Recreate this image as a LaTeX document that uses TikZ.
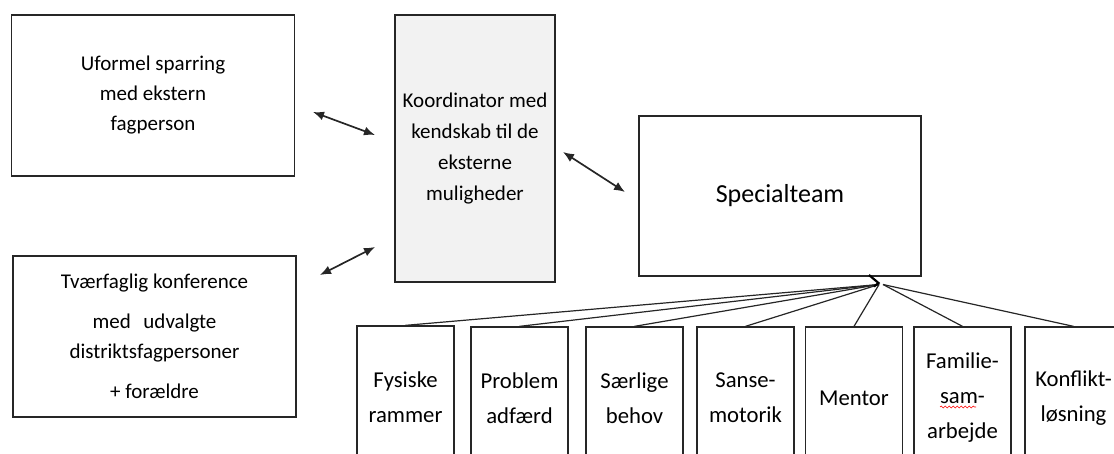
\documentclass[tikz,border=0pt]{standalone}
\usepackage{fontspec}
\setmainfont{Carlito}
\usetikzlibrary{arrows.meta,decorations.pathmorphing}
\definecolor{koordfill}{HTML}{F2F2F2}
\begin{document}
\begin{tikzpicture}[x=1pt,y=-1pt,
  box/.style={draw=black!85, line width=1.3pt, rectangle, inner sep=0pt, align=center},
  leftbox/.style={box, minimum width=283pt, minimum height=161pt, font=\fontsize{21}{30}\selectfont},
  bottombox/.style={box, minimum width=97pt, minimum height=142pt, font=\fontsize{22.7}{35}\selectfont},
  dbl/.style={{Latex[length=11pt,width=9pt]}-{Latex[length=11pt,width=9pt]}, line width=1.7pt, draw=black!85},
  fan/.style={draw=black!85, line width=1.2pt},
  chevron/.style={draw=black, line width=2.2pt},
  spell/.style={draw=red, line width=0.6pt, decorate, decoration={snake, amplitude=0.9pt, segment length=4pt}},
]
\useasboundingbox (0,0) rectangle (1114,454);

% left boxes
\node[leftbox] (uf) at (153,95.5) {Uformel sparring\\med ekstern\\fagperson};
\node[leftbox] (tv) at (154.5,336.5) {Tværfaglig konference\\[10pt]med\hspace{0.6em}udvalgte\\distriktsfagpersoner\\[10pt]+ forældre};

% coordinator
\node[box, fill=koordfill, minimum width=160pt, minimum height=267pt,
      font=\fontsize{21}{31}\selectfont] (ko) at (475,148.5)
      {Koordinator med\\kendskab til de\\eksterne\\muligheder};

% special team
\node[box, minimum width=282pt, minimum height=160pt,
      font=\fontsize{26}{32}\selectfont] (sp) at (780,196) {Specialteam};

% bottom row
\node[bottombox] (fys) at (405.5,397) {Fysiske\\rammer};
\node[bottombox] (pro) at (519.5,398) {Problem\\adfærd};
\node[bottombox] (sae) at (634.5,398) {Særlige\\behov};
\node[bottombox] (san) at (745.5,398) {Sanse-\\motorik};
\node[bottombox] (men) at (854,398) {Mentor};
\node[bottombox] (fam) at (962.5,398) {Familie-\\sam-\\arbejde};
\node[bottombox] (kon) at (1073.5,398) {Konflikt-\\løsning};

% double arrows
\coordinate (a1s) at (313,112);
\coordinate (a1e) at (375,135);
\coordinate (a2s) at (320,275);
\coordinate (a2e) at (375,247);
\coordinate (a3s) at (563,152);
\coordinate (a3e) at (625,192);
\draw[dbl] (a1s) -- (a1e);
\draw[dbl] (a2s) -- (a2e);
\draw[dbl] (a3s) -- (a3e);

% fan from special team
\coordinate (hub) at (879,284.5);
\coordinate (hubr) at (883,284.5);
\draw[fan] (hub) -- (fys.north);
\draw[fan] (hub) -- (pro.north);
\draw[fan] (hub) -- (sae.north);
\draw[fan] (hub) -- (san.north);
\draw[fan] (hub) -- (men.north);
\draw[fan] (hubr) -- (fam.north);
\draw[fan] (hubr) -- (kon.north);
\draw[chevron] (869,275) -- (878.5,283) -- (874,286.5);

% spell-check underline under "sam"
\draw[spell] (940,407) -- (976,407);
\end{tikzpicture}
\end{document}
